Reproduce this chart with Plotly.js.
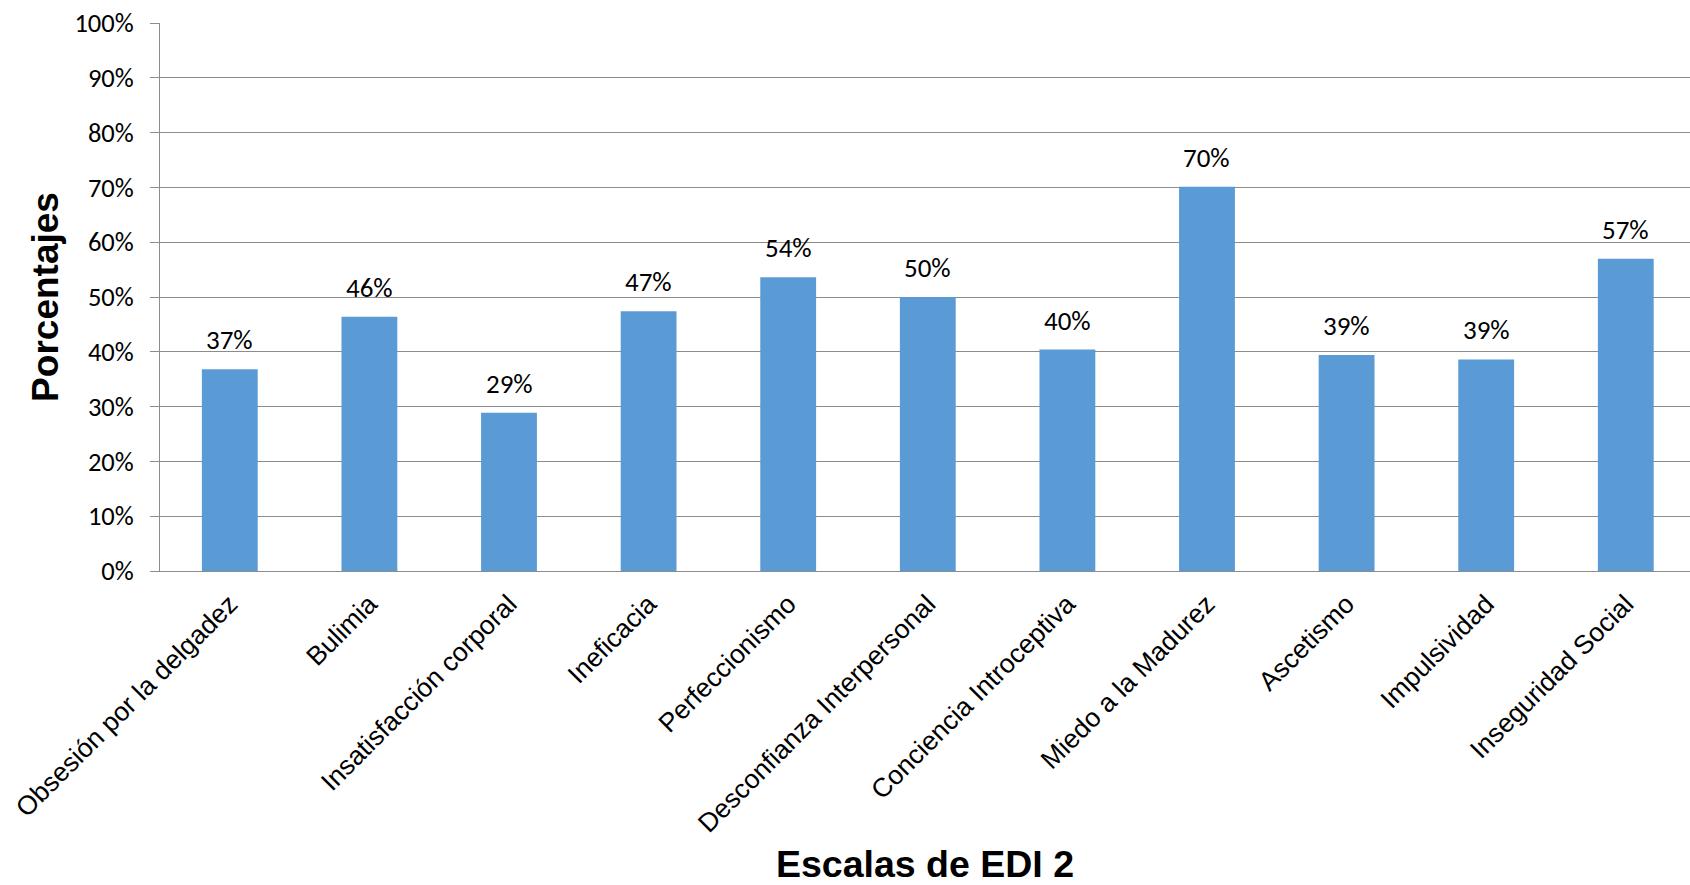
<!DOCTYPE html>
<html>
<head>
<meta charset="utf-8">
<script src="https://cdn.plot.ly/plotly-3.0.1.min.js"></script>
<style>html,body{margin:0;padding:0;background:#fff;}#chart{width:1690px;height:885px;}</style>
</head>
<body>
<div id="chart"></div>
<script>
const categories = ["Obsesión por la delgadez", "Bulimia", "Insatisfacción corporal", "Ineficacia", "Perfeccionismo", "Desconfianza Interpersonal", "Conciencia Introceptiva", "Miedo a la Madurez", "Ascetismo", "Impulsividad", "Inseguridad Social"];
const values = [0.368, 0.464, 0.289, 0.474, 0.536, 0.500, 0.404, 0.701, 0.394, 0.386, 0.570];
const labels = ["37%", "46%", "29%", "47%", "54%", "50%", "40%", "70%", "39%", "39%", "57%"];
const yTickVals = [0, 0.1, 0.2, 0.3, 0.4, 0.5, 0.6, 0.7, 0.8, 0.9, 1.0];
const yTickText = ["0%", "10%", "20%", "30%", "40%", "50%", "60%", "70%", "80%", "90%", "100%"];

const FONT = "Carlito, Calibri, 'Liberation Sans', Arial, sans-serif";
const ARIAL = "'Liberation Sans', Arial, sans-serif";

const trace = {
  type: "bar",
  x: categories,
  y: values,
  marker: {color: "#5B9BD5", line: {width: 0}},
  hoverinfo: "skip"
};

const annotations = categories.map((c, i) => ({
  x: c, y: values[i], xref: "x", yref: "y",
  text: labels[i], showarrow: false,
  yanchor: "bottom", yshift: 11,
  font: {family: FONT, size: 27, color: "#000"}
}));

const layout = {
  width: 1690, height: 885,
  margin: {l: 160, r: 0, t: 23, b: 314},
  paper_bgcolor: "#fff", plot_bgcolor: "#fff",
  bargap: 0.6,
  showlegend: false,
  xaxis: {
    type: "category",
    range: [-0.5, 10.46],
    tickangle: -45,
    tickfont: {family: ARIAL, size: 26.5, color: "#000"},
    showline: true, linecolor: "#8c8c8c", linewidth: 1,
    ticks: "", showgrid: false, zeroline: false,
    automargin: false,
    ticklabelstandoff: 6,
    title: {text: "<b>Escalas de EDI 2</b>", font: {family: ARIAL, size: 37.5, color: "#000"}, standoff: 27}
  },
  yaxis: {
    range: [0, 1],
    tickvals: yTickVals, ticktext: yTickText,
    tickfont: {family: FONT, size: 26.5, color: "#000"},
    ticks: "outside", ticklen: 9, tickcolor: "#8c8c8c", tickwidth: 1,
    ticklabelstandoff: 11,
    showline: true, linecolor: "#8c8c8c", linewidth: 1,
    showgrid: true, gridcolor: "#8c8c8c", gridwidth: 1,
    zeroline: false,
    automargin: false,
    title: {text: "<b>Porcentajes</b>", font: {family: ARIAL, size: 37, color: "#000"}, standoff: 4}
  },
  annotations: annotations
};

Plotly.newPlot("chart", [trace], layout, {displayModeBar: false, staticPlot: true});
</script>
</body>
</html>
